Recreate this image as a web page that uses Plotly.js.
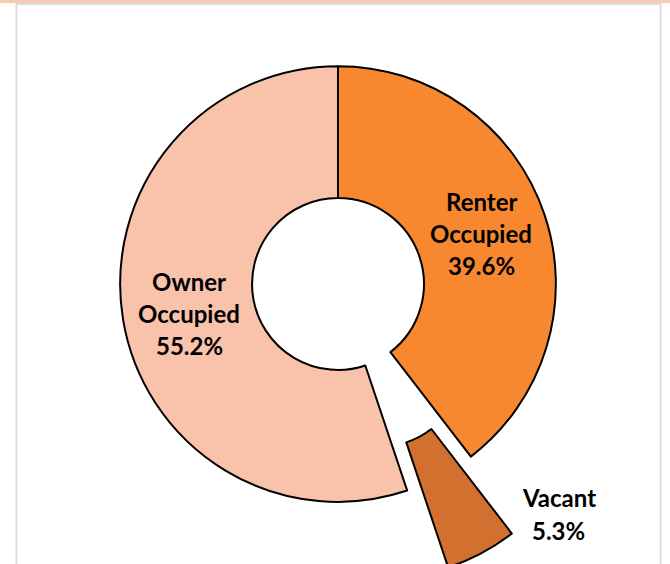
<!DOCTYPE html>
<html>
<head>
<meta charset="utf-8">
<script src="https://cdn.plot.ly/plotly-3.0.1.min.js"></script>
<style>
  html, body { margin: 0; padding: 0; width: 670px; height: 564px; overflow: hidden; background: #ffffff; }
  #chart { position: absolute; left: 0; top: -30px; width: 670px; height: 660px; }
</style>
</head>
<body>
<div id="chart"></div>
<script>
// ---- data ----
const labels = ['Renter Occupied', 'Vacant', 'Owner Occupied'];
const values = [39.6, 5.3, 55.2];
const colors = ['#F7882F', '#D2712F', '#F8C2AB'];
const pulls  = [0, 0.40, 0];

// ---- layout helpers ----
const W = 670, H = 660, OFF = 30;
const px = x => x / W;
const py = y => 1 - (y + OFF) / H;

// label block positions (page px): [centerX, [line centers Y]]
const labelPos = [
  [481, [201.5, 233.5, 265]],
  [558.5, [497, 530]],
  [189, [281.5, 313.5, 345]]
];

const annotations = [];
labels.forEach((lab, i) => {
  const lines = lab.split(' ').concat([values[i].toFixed(1) + '%']);
  lines.forEach((t, j) => {
    annotations.push({
      text: '<b>' + t + '</b>',
      x: px(labelPos[i][0]), y: py(labelPos[i][1][j]),
      xref: 'paper', yref: 'paper', xanchor: 'center', yanchor: 'middle',
      showarrow: false,
      font: { family: 'Lato, sans-serif', size: 24, color: '#000000' }
    });
  });
});

const trace = {
  type: 'pie',
  labels: labels,
  values: values,
  sort: false,
  direction: 'clockwise',
  rotation: 0,
  hole: 0.3945,
  pull: pulls,
  marker: { colors: colors, line: { color: '#000000', width: 2 } },
  textinfo: 'none',
  hoverinfo: 'none',
  showlegend: false,
  domain: { x: [33 / W, 643 / W], y: [1 - 624 / H, 1 - 4 / H] }
};

const shapes = [
  // top orange strip
  { type: 'rect', xref: 'paper', yref: 'paper', x0: 0, x1: 1, y0: py(3), y1: py(-5),
    fillcolor: '#F8CBAD', line: { width: 0 }, layer: 'below' },
  // frame
  { type: 'rect', xref: 'paper', yref: 'paper', x0: px(16.5), x1: px(660.5), y0: py(600), y1: py(4),
    fillcolor: 'rgba(0,0,0,0)', line: { color: '#D9DEE6', width: 2 }, layer: 'below' }
];

const layout = {
  width: W, height: H,
  margin: { l: 0, r: 0, t: 0, b: 0 },
  paper_bgcolor: '#ffffff',
  plot_bgcolor: '#ffffff',
  showlegend: false,
  annotations: annotations,
  shapes: shapes
};

Plotly.newPlot('chart', [trace], layout, { displayModeBar: false, staticPlot: true });
</script>
</body>
</html>
